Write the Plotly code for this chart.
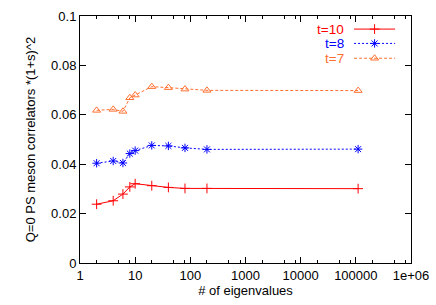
import plotly.graph_objects as go

# ---- data ----
n_eig = [2, 4, 6, 8, 10, 20, 40, 80, 200, 110000]
t10 = [0.0238, 0.0252, 0.0279, 0.0308, 0.0321, 0.0313, 0.0306, 0.0302, 0.0302, 0.0301]
t8 = [0.0404, 0.0413, 0.0405, 0.0443, 0.0455, 0.0476, 0.0474, 0.0466, 0.0460, 0.0461]
t7 = [0.0618, 0.0622, 0.0614, 0.0669, 0.0680, 0.0714, 0.0710, 0.0704, 0.0699, 0.0698]

series_names = ["t=10", "t=8", "t=7"]
x_tickvals = [1, 10, 100, 1000, 10000, 100000, 1000000]
x_ticktext = ["1", "10", "100", "1000", "10000", "100000", "1e+06"]
x_minor = [m * 10 ** d for d in range(6) for m in (2, 5, 8)]
y_tickvals = [0, 0.02, 0.04, 0.06, 0.08, 0.1]
y_ticktext = ["0", "0.02", "0.04", "0.06", "0.08", "0.1"]

RED = "#ff0000"
BLUE = "#0000ff"
ORANGE = "#ff7030"
FONT = "Liberation Sans, Arial, Helvetica, sans-serif"

styles = [
    dict(color=RED, dash="solid", symbol="cross-thin-open", size=7),
    dict(color=BLUE, dash="2px,2px", symbol="asterisk-open", size=7),
    dict(color=ORANGE, dash="3px,2px", symbol="triangle-up-open", size=7),
]

fig = go.Figure()
for name, ys, st in zip(series_names, [t10, t8, t7], styles):
    fig.add_trace(go.Scatter(
        x=n_eig, y=ys, mode="lines+markers", name=name, showlegend=False,
        line=dict(color=st["color"], width=1, dash=st["dash"]),
        marker=dict(symbol=st["symbol"], size=st["size"],
                    line=dict(color=st["color"], width=1), color=st["color"]),
    ))

# ---- manual gnuplot-style key (text right, sample left) on an overlay axis ----
key_y = [0.947, 0.889, 0.829]
key_line_x = [0.828, 0.952]
key_mark_x = 0.89
key_text_x = 0.804
for name, ky, st in zip(series_names, key_y, styles):
    fig.add_trace(go.Scatter(
        x=key_line_x, y=[ky, ky], mode="lines", xaxis="x2", yaxis="y2",
        showlegend=False, hoverinfo="skip",
        line=dict(color=st["color"], width=1, dash=st["dash"]),
    ))
    fig.add_trace(go.Scatter(
        x=[key_mark_x], y=[ky], mode="markers", xaxis="x2", yaxis="y2",
        showlegend=False, hoverinfo="skip",
        marker=dict(symbol=st["symbol"], size=st["size"],
                    line=dict(color=st["color"], width=1), color=st["color"]),
    ))
    fig.add_annotation(x=key_text_x, y=ky, xref="x2 domain", yref="y2 domain",
                       text=name, showarrow=False, xanchor="right", yanchor="middle",
                       font=dict(color=st["color"], size=13.5, family=FONT))

axis_common = dict(showline=True, linecolor="black", linewidth=1, mirror="allticks",
                   ticks="inside", tickcolor="black", ticklen=6, showgrid=False,
                   zeroline=False, automargin=False,
                   tickfont=dict(size=13, family=FONT, color="black"))

fig.update_layout(
    width=436, height=305,
    margin=dict(l=80, r=25, t=16, b=42),
    paper_bgcolor="white", plot_bgcolor="white",
    font=dict(family=FONT, size=13, color="black"),
    xaxis=dict(type="log", range=[0, 6], tickmode="array", tickvals=x_tickvals,
               ticktext=x_ticktext,
               minor=dict(tickmode="array", tickvals=x_minor, ticks="inside",
                          ticklen=3, tickcolor="black", showgrid=False),
               title=dict(text="# of eigenvalues", font=dict(size=13), standoff=2),
               **axis_common),
    yaxis=dict(range=[0, 0.1], tickmode="array", tickvals=y_tickvals, ticktext=y_ticktext,
               title=dict(text="Q=0 PS meson correlators *(1+s)^2", font=dict(size=13),
                          standoff=12),
               **axis_common),
    xaxis2=dict(overlaying="x", range=[0, 1], visible=False, fixedrange=True),
    yaxis2=dict(overlaying="y", range=[0, 1], visible=False, fixedrange=True),
    showlegend=False,
)

fig.write_html(
    "out.html",
    config={"displayModeBar": False},
    post_script="document.body.style.margin='0';document.body.style.overflow='hidden';",
)
